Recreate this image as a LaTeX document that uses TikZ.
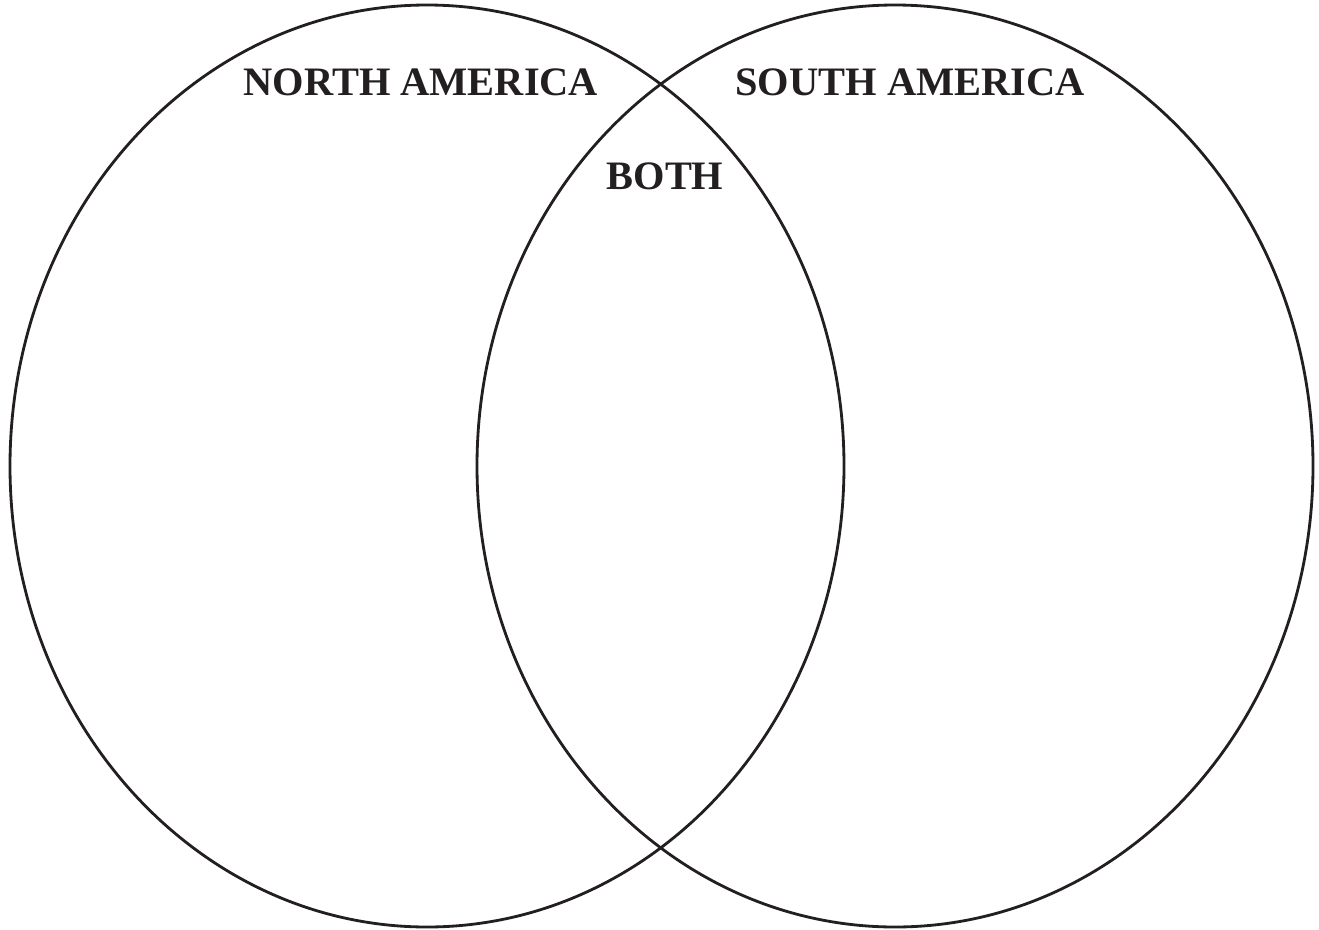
\documentclass[tikz,border=0pt]{standalone}
\usepackage{fontspec}
\setmainfont{Liberation Serif}
\usepackage{xcolor}
\usepackage{tikz}
\usetikzlibrary{positioning}
\definecolor{InkC}{RGB}{35,31,32}
\tikzset{
  ring/.style={draw=InkC,line width=1.6pt},
  setlab/.style={anchor=base,inner sep=0pt,text=InkC,
                 font=\fontsize{23}{27}\selectfont\bfseries},
}

\begin{document}
\begin{tikzpicture}[x=0.02cm,y=-0.02cm]
  \useasboundingbox (0,0) rectangle (1319,930);
  % the two sets
  \draw[ring] (427,466) ellipse [x radius=417, y radius=461];
  \draw[ring] (895,466) ellipse [x radius=418, y radius=461];
  % labels
  \node[setlab] (north) at (421,95)  {NORTH AMERICA};
  \node[setlab] (south) at (910,95)  {SOUTH AMERICA};
  \node[setlab] (both)  at (665,189) {BOTH};
\end{tikzpicture}
\end{document}
